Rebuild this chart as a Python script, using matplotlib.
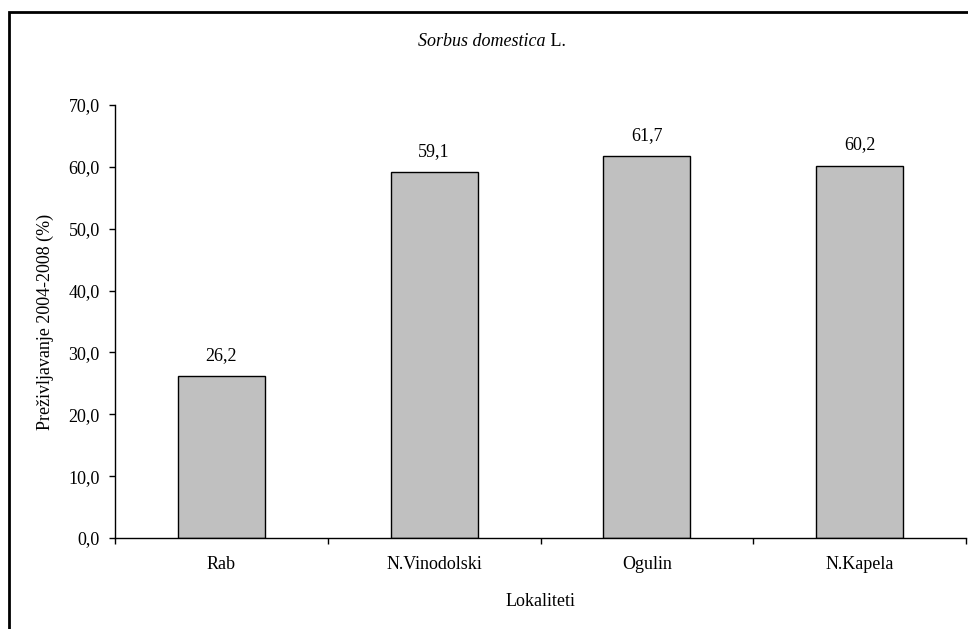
import matplotlib.pyplot as plt
from matplotlib.patches import Rectangle
import numpy as np

# data
locations = ["Rab", "N.Vinodolski", "Ogulin", "N.Kapela"]
survival = [26.2, 59.1, 61.7, 60.2]
yticks = [0, 10, 20, 30, 40, 50, 60, 70]

plt.rcParams['font.family'] = ['Liberation Serif', 'DejaVu Serif']
plt.rcParams['font.size'] = 13

W, H = 968, 629
fig = plt.figure(figsize=(W / 100, H / 100), dpi=100)
ax = fig.add_axes([115 / W, 1 - 538 / H, (966 - 115) / W, (538 - 105) / H])

x = np.arange(len(locations))
bars = ax.bar(x, survival, width=0.41, color='#C0C0C0', edgecolor='black', linewidth=1)
for bar, v in zip(bars, survival):
    ax.annotate(f"{v:.1f}".replace('.', ','), (bar.get_x() + bar.get_width() / 2, v),
                xytext=(0, 15), textcoords='offset points', ha='center', va='center')

ax.set_xlim(-0.5, len(locations) - 0.5)
ax.set_ylim(0, 70)
ax.set_yticks(yticks)
ax.set_yticklabels([f"{t:.1f}".replace('.', ',') for t in yticks])
ax.set_xticks(x)
ax.set_xticklabels(locations)
ax.set_xticks(np.arange(-0.5, len(locations)), minor=True)
ax.tick_params(axis='x', which='major', length=0, pad=13)
ax.tick_params(axis='x', which='minor', length=4, direction='out', width=1)
ax.tick_params(axis='y', length=4, direction='out', width=1, pad=7)

for s in ['top', 'right']:
    ax.spines[s].set_visible(False)
for s in ['left', 'bottom']:
    ax.spines[s].set_linewidth(1)

ax.set_xlabel("Lokaliteti", labelpad=14)
ax.set_ylabel("Preživljavanje 2004-2008 (%)", labelpad=10)

# title: italic species name followed by upright author abbreviation
ty = 1 - 42 / H
fig.text(546 / W, ty, "Sorbus domestica", style='italic', ha='right', va='center')
fig.text(546 / W, ty, " L.", ha='left', va='center')

# frame around the chart area
fig.patches.append(Rectangle((9 / W, -0.1), 1.2, 0.1 + 1 - 12 / H, transform=fig.transFigure,
                             fill=False, edgecolor='black', linewidth=2))

fig.savefig("out.png", dpi=100)
